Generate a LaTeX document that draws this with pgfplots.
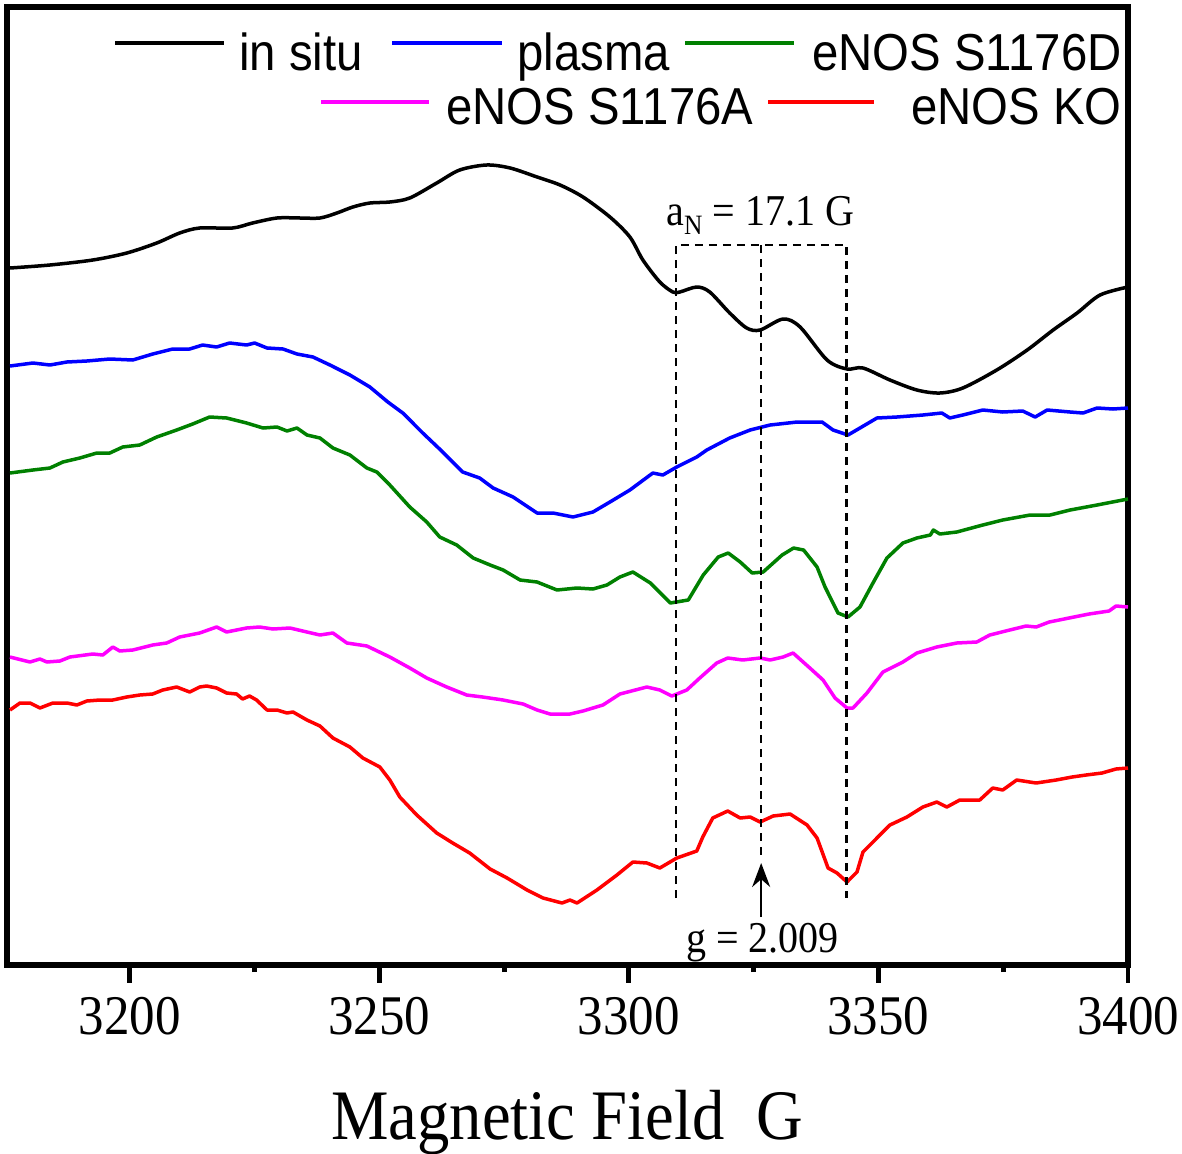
\documentclass[border=0pt]{standalone}
\usepackage{pgfplots}
\pgfplotsset{compat=1.18}
\usepackage{fontspec}
\setmainfont[FakeStretch=0.91]{Liberation Serif}
\newfontfamily\legfont[FakeStretch=0.91]{Liberation Sans}
\usetikzlibrary{arrows.meta}
\definecolor{cblue}{RGB}{0,0,255}
\definecolor{cgreen}{RGB}{0,128,0}
\definecolor{cmag}{RGB}{255,0,255}
\definecolor{cred}{RGB}{255,0,0}
\begin{document}
\begin{tikzpicture}
\begin{axis}[
  name=ax, at={(0,0)}, anchor=south west,
  scale only axis, width=560.5pt, height=479pt,
  xmin=3175.4, xmax=3400, ymin=0, ymax=958,
  xtick={3200,3250,3300,3350,3400}, minor x tick num=1,
  ytick=\empty,
  xtick pos=bottom, tick align=outside,
  major tick length=8.75pt, minor tick length=3.5pt,
  every tick/.style={black, line width=2.4pt},
  axis line style={line width=2.6pt},
  /pgf/number format/assume math mode=true,
  /pgf/number format/set thousands separator={},
  xticklabel style={font=\fontsize{28}{28}\selectfont, yshift=-4pt},
  xlabel={Magnetic Field\ \ G},
  xlabel style={font=\fontsize{35.5}{36}\selectfont, at={(axis description cs:0.5,0)}, anchor=base, yshift=-87pt},
  every axis plot/.append style={line width=1.75pt, line join=round},
]
\addplot[black, smooth] coordinates {
(3176.0,697) (3184.0,700) (3192.6,705) (3199.4,712) (3205.4,722) (3210.0,732) (3214.0,737) (3220.6,737) (3224.6,742) (3229.5,747) (3234.1,747) (3238.1,747) (3241.5,752) (3244.7,758) (3248.1,762) (3252.1,763) (3256.1,767) (3261.5,782) (3266.1,795) (3271.5,800) (3276.2,797) (3281.6,788) (3286.2,780) (3290.8,768) (3296.2,748) (3300.2,728) (3302.8,705) (3306.2,683) (3308.8,673) (3310.2,673) (3313.6,678) (3316.2,673) (3320.2,652) (3323.6,637) (3326.3,635) (3330.9,646) (3334.3,638) (3339.7,605) (3343.7,596) (3346.9,597) (3352.3,585) (3357.7,575) (3362.3,572) (3366.9,577) (3373.7,595) (3379.8,615) (3385.0,635) (3389.8,652) (3394.4,670) (3400,678)
};
\addplot[cblue] coordinates {
(3176.0,599) (3180.6,602) (3184.0,600) (3187.4,603) (3191.4,604) (3196.0,606) (3200.6,605) (3204.6,611) (3208.6,616) (3212.0,616) (3214.6,620) (3217.4,618) (3220.0,622) (3223.4,620) (3225.0,622) (3227.5,617) (3230.7,616) (3233.5,611) (3236.7,608) (3240.1,600) (3244.1,590) (3248.1,578) (3251.7,563) (3254.7,552) (3258.7,532) (3262.7,513) (3266.7,493) (3270.1,487) (3272.8,477) (3276.8,468) (3281.6,452) (3284.8,452) (3288.8,448) (3292.8,453) (3296.2,463) (3300.2,475) (3304.8,492) (3306.8,490) (3309.6,498) (3313.6,508) (3315.6,515) (3320.2,527) (3324.3,535) (3328.3,540) (3333.7,543) (3338.7,543) (3340.9,535) (3343.9,530) (3346.3,537) (3349.7,547) (3353.7,548) (3358.9,550) (3362.7,552) (3364.3,547) (3366.9,550) (3370.9,555) (3374.9,553) (3378.9,554) (3381.4,548) (3383.8,555) (3388.4,553) (3391.0,552) (3393.8,557) (3397.0,556) (3400.0,557)
};
\addplot[cgreen] coordinates {
(3176.0,492) (3180.6,495) (3184.0,497) (3186.6,503) (3190.0,507) (3193.4,512) (3196.0,512) (3198.6,518) (3202.0,520) (3205.4,528) (3209.4,535) (3212.6,541) (3216.0,548) (3219.4,547) (3223.4,542) (3226.7,537) (3229.5,538) (3231.5,534) (3233.5,537) (3235.5,530) (3238.1,527) (3240.7,517) (3244.1,510) (3247.5,497) (3249.5,493) (3252.1,480) (3256.1,458) (3259.5,443) (3262.1,428) (3265.5,420) (3268.8,407) (3272.2,400) (3274.8,395) (3278.2,385) (3281.6,383) (3285.6,375) (3289.6,377) (3292.8,376) (3295.6,380) (3298.2,388) (3300.8,393) (3304.3,382) (3308.3,362) (3311.9,365) (3314.9,390) (3317.9,408) (3319.9,412) (3322.3,403) (3324.7,392) (3326.9,393) (3330.7,410) (3333.0,417) (3335.0,415) (3337.7,398) (3339.3,378) (3341.9,352) (3343.9,348) (3346.3,358) (3348.9,382) (3351.7,407) (3354.9,422) (3357.7,427) (3360.4,430) (3361.0,435) (3362.3,431) (3365.7,433) (3370.9,440) (3374.9,445) (3380.4,450) (3384.4,450) (3388.4,455) (3393.8,460) (3400.0,466)
};
\addplot[cmag] coordinates {
(3176.0,308) (3180.0,303) (3182.0,306) (3183.4,303) (3186.0,304) (3188.0,308) (3192.6,311) (3194.6,310) (3196.6,318) (3198.0,314) (3200.6,315) (3204.6,320) (3207.4,322) (3210.0,328) (3214.0,332) (3217.4,338) (3219.4,333) (3223.4,337) (3226.0,338) (3228.7,336) (3232.1,337) (3235.5,333) (3238.1,330) (3240.7,332) (3243.5,322) (3247.5,319) (3252.1,308) (3256.1,297) (3259.5,287) (3263.5,278) (3267.5,270) (3270.7,268) (3274.8,265) (3278.8,261) (3281.6,255) (3284.2,251) (3288.2,251) (3290.8,254) (3294.8,260) (3298.2,271) (3303.6,278) (3306.2,275) (3308.6,269) (3311.6,275) (3314.2,287) (3317.6,302) (3319.8,307) (3322.8,305) (3326.3,307) (3328.3,305) (3330.9,308) (3332.9,312) (3336.7,295) (3338.9,285) (3341.3,267) (3343.7,257) (3344.9,257) (3347.7,272) (3350.9,293) (3354.9,303) (3357.7,312) (3361.7,318) (3365.7,322) (3369.7,323) (3372.3,330) (3376.3,335) (3379.6,339) (3381.6,338) (3384.2,343) (3388.2,347) (3392.2,351) (3396.2,354) (3397.6,359) (3400.0,358)
};
\addplot[cred] coordinates {
(3176.0,255) (3178.0,262) (3180.0,262) (3182.0,257) (3184.6,262) (3187.4,262) (3189.4,260) (3191.4,264) (3194.0,265) (3196.6,265) (3199.4,268) (3202.0,270) (3204.6,271) (3206.6,275) (3209.4,278) (3212.0,273) (3214.0,278) (3215.4,279) (3217.4,277) (3219.4,272) (3221.4,271) (3222.6,266) (3224.0,269) (3225.4,265) (3227.5,255) (3229.5,255) (3231.5,252) (3232.7,253) (3235.5,245) (3238.1,239) (3240.7,227) (3244.1,218) (3246.7,207) (3250.1,198) (3252.1,185) (3254.1,168) (3257.5,150) (3261.5,132) (3264.7,122) (3268.1,112) (3272.2,96) (3275.6,87) (3279.6,75) (3282.8,67) (3286.6,62) (3288.2,65) (3289.6,62) (3293.6,75) (3297.6,90) (3300.8,103) (3303.6,102) (3306.2,97) (3309.6,107) (3313.6,114) (3314.8,128) (3316.8,147) (3319.8,154) (3322.3,147) (3324.3,148) (3326.3,143) (3328.9,149) (3332.3,151) (3335.7,140) (3337.7,127) (3339.9,97) (3341.7,92) (3343.7,83) (3345.7,93) (3346.9,113) (3349.7,127) (3352.3,140) (3355.7,148) (3358.9,158) (3361.7,163) (3363.7,158) (3366.3,165) (3370.3,165) (3372.9,177) (3374.9,175) (3377.7,185) (3381.6,182) (3385.6,185) (3388.8,188) (3391.6,190) (3394.8,192) (3397.6,196) (3400.0,197)
};
% annotations
\draw[black, line width=1.2pt, dash pattern=on 4pt off 3pt] (axis cs:3309.4,67) -- (axis cs:3309.4,720) -- (axis cs:3343.6,720) -- (axis cs:3343.6,67);
\draw[black, line width=1.2pt, dash pattern=on 4pt off 3pt] (axis cs:3326.5,720) -- (axis cs:3326.5,110);
\draw[black, line width=1.1pt, -{Stealth[length=12pt, width=9pt]}] (axis cs:3326.5,48) -- (axis cs:3326.5,102);
\node[anchor=base, inner sep=0pt, font=\fontsize{22}{22}\selectfont] at (axis cs:3326.3,740) {a\raisebox{-0.45ex}{\fontsize{14}{14}\selectfont N} = 17.1 G};
\node[anchor=base, inner sep=0pt, font=\fontsize{22}{22}\selectfont] at (axis cs:3326.8,13) {g = 2.009};
\end{axis}
% legend
\begin{scope}[line width=2pt]
\draw[black] (54pt,461pt) -- (108.5pt,461pt);
\draw[cblue] (192.5pt,461pt) -- (247.5pt,461pt);
\draw[cgreen] (339pt,461pt) -- (393.5pt,461pt);
\draw[cmag] (157pt,431.5pt) -- (211pt,431.5pt);
\draw[cred] (380.5pt,431.5pt) -- (433.5pt,431.5pt);
\end{scope}
\begin{scope}[every node/.style={inner sep=0pt, font=\legfont\fontsize{26}{26}\selectfont}]
\node[anchor=base west] at (116pt,447pt) {in situ};
\node[anchor=base west] at (255pt,447pt) {plasma};
\node[anchor=base east] at (557.5pt,447pt) {eNOS S1176D};
\node[anchor=base west] at (219.5pt,420pt) {eNOS S1176A};
\node[anchor=base east] at (557.5pt,420pt) {eNOS KO};
\end{scope}
\pgfresetboundingbox
\path[use as bounding box] (-3.5pt,-94pt) rectangle (587.5pt,482.5pt);
\end{tikzpicture}
\end{document}
